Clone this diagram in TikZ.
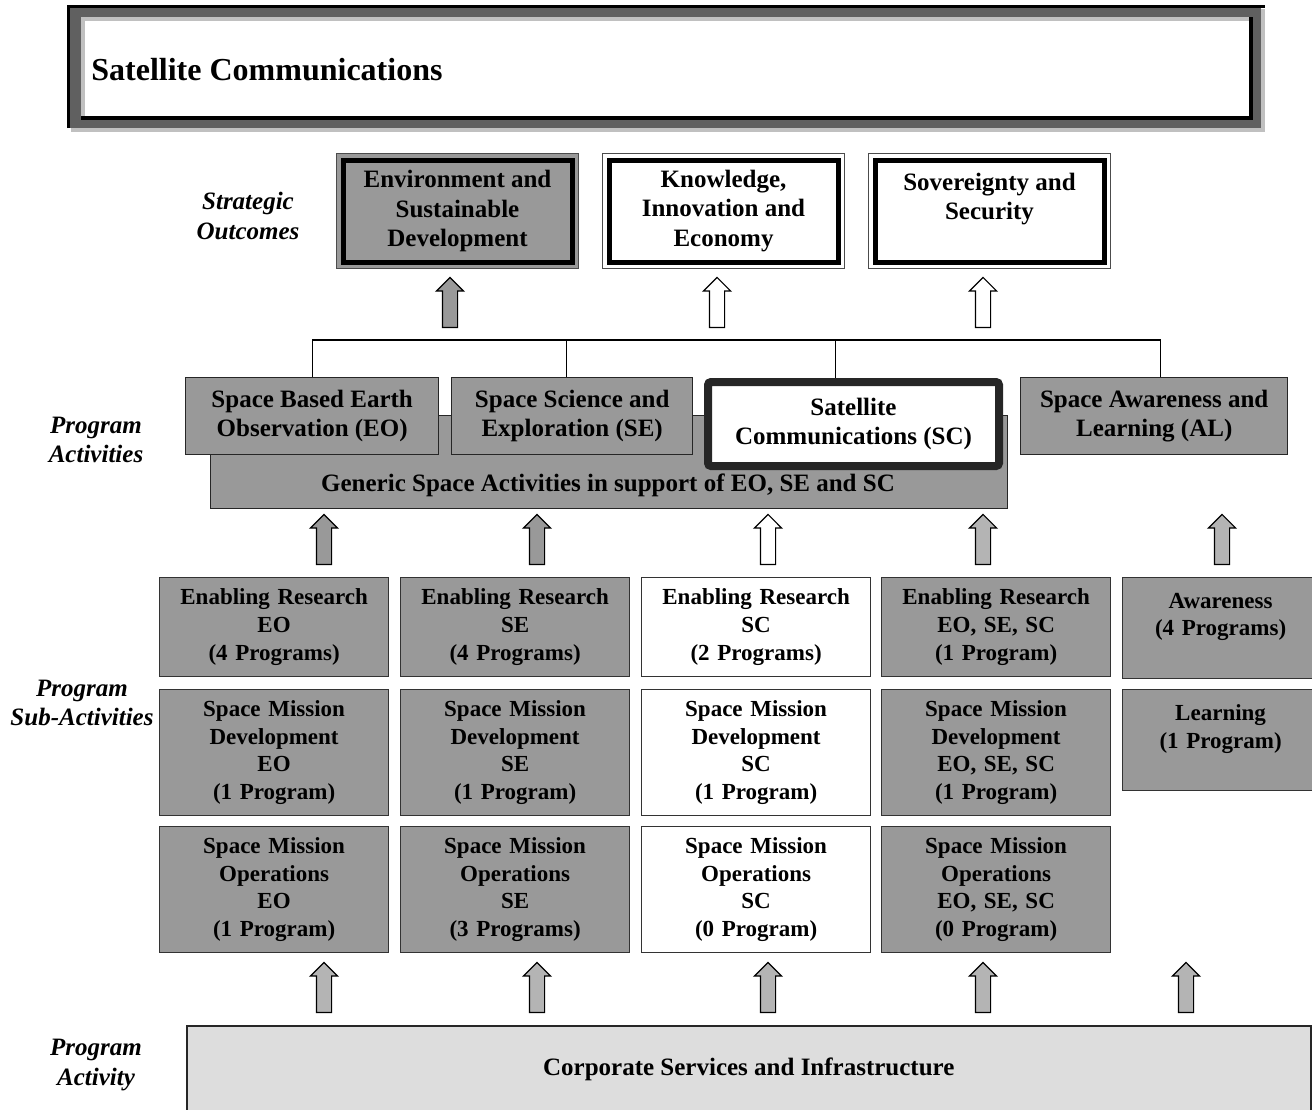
\documentclass[tikz,border=0pt]{standalone}
\usepackage{fontspec}
\setmainfont{Liberation Serif}
\usepackage{tikz}
\usetikzlibrary{shapes.arrows}
\definecolor{boxgray}{HTML}{999999}
\definecolor{lightarrow}{HTML}{B4B4B4}
\definecolor{framedark}{HTML}{606060}
\definecolor{framelight}{HTML}{C0C0C0}
\definecolor{corpgray}{HTML}{DDDDDD}
\tikzset{subbox/.style={draw=black!80, line width=0.6pt, fill=boxgray,
  anchor=north west, minimum width=114.5pt, text width=112pt, align=center,
  inner sep=0pt, font=\fontsize{11.5}{13.8}\selectfont\bfseries}}
\tikzset{actbox/.style={draw=black!85, line width=0.7pt, fill=boxgray,
  anchor=north west, align=center, inner sep=0pt,
  font=\fontsize{12.5}{14.6}\selectfont\bfseries}}
\tikzset{outbox/.style={draw=black!70, line width=0.5pt, anchor=north west,
  minimum width=121pt, minimum height=57.5pt, align=center, inner sep=0pt,
  font=\fontsize{12.5}{14.75}\selectfont\bfseries}}
\tikzset{rowlabel/.style={align=center,
  font=\fontsize{12.5}{14.75}\selectfont\bfseries\itshape}}
\tikzset{blockup/.style={single arrow, draw, line width=0.6pt,
  shape border rotate=90, anchor=tail, minimum height=25pt, inner sep=3.5pt,
  single arrow head extend=3pt}}

\begin{document}
\begin{tikzpicture}[x=0.5pt, y=-0.5pt]
\useasboundingbox (0,0) rectangle (1312,1109);

% title frame
\fill[framelight] (71,9) rectangle (1265,132);
\fill[framedark] (67,5) rectangle (1261,128);
\draw[line width=1.5pt] (68.5,128) -- (68.5,6.5) -- (1265,6.5);
\fill[black] (81,17) rectangle (1253,120);
\fill[framelight] (81,17) rectangle (1249,116);
\fill[white] (85,21) rectangle (1249,116);
\node[anchor=base west, inner sep=0pt, font=\fontsize{16}{19}\selectfont\bfseries] (title) at (91,80) {Satellite Communications};

% strategic outcomes
\node[rowlabel] (lblSO) at (248,216) {Strategic\\Outcomes};
\node[outbox, fill=boxgray] (esd) at (336,153) {Environment and\\Sustainable\\Development};
\node[outbox, fill=white] (kie) at (602,153) {Knowledge,\\Innovation and\\Economy};
\node[outbox, fill=white] (ss) at (868,153) {Sovereignty and\\Security\\\mbox{}};
\draw[line width=2.5pt] ([shift={(7,7)}]esd.north west) rectangle ([shift={(-7,-7)}]esd.south east);
\draw[line width=2.5pt] ([shift={(7,7)}]kie.north west) rectangle ([shift={(-7,-7)}]kie.south east);
\draw[line width=2.5pt] ([shift={(7,7)}]ss.north west) rectangle ([shift={(-7,-7)}]ss.south east);

\node[blockup, fill=boxgray] (upESD) at (450,328) {};
\node[blockup, fill=white] (upKIE) at (717,328) {};
\node[blockup, fill=white] (upSS) at (983,328) {};

% program activities
\node[rowlabel] (lblPA) at (96,440) {Program\\Activities};
\node[actbox, minimum width=398.5pt, minimum height=46.5pt] (gen) at (210,415) {};
\node[font=\fontsize{12.5}{14.6}\selectfont\bfseries] (genlbl) at (608,485) {Generic Space Activities in support of EO, SE and SC};
\node[actbox, minimum width=126.5pt, minimum height=38.5pt] (eoact) at (185,377) {Space Based Earth\\Observation (EO)};
\node[actbox, minimum width=120.5pt, minimum height=38.5pt] (seact) at (451,377) {Space Science and\\Exploration (SE)};
\node[actbox, fill=white, line width=4pt, rounded corners=1.5pt, minimum width=145.5pt, minimum height=42pt] (scact) at (704,378) {Satellite\\Communications (SC)};
\node[actbox, minimum width=133.5pt, minimum height=38.5pt] (alact) at (1020,377) {Space Awareness and\\Learning (AL)};

\coordinate (bus) at (0,340);
\draw[line width=0.6pt] (eoact.north) -- (eoact.north |- bus) -- ([xshift=3pt]alact.north |- bus) -- ([xshift=3pt]alact.north);
\draw[line width=0.6pt] ([xshift=-2.75pt]seact.north) -- ([xshift=-2.75pt]seact.north |- bus);
\draw[line width=0.6pt] ([xshift=-9pt]scact.north) -- ([xshift=-9pt]scact.north |- bus);

\node[blockup, fill=boxgray] (upEO) at (324,565) {};
\node[blockup, fill=boxgray] (upSE) at (537,565) {};
\node[blockup, fill=white] (upSC) at (768,565) {};
\node[blockup, fill=lightarrow] (upAll) at (983,565) {};
\node[blockup, fill=lightarrow] (upAL) at (1222,565) {};

% program sub-activities
\node[rowlabel] (lblPSA) at (82,703) {Program\\Sub-Activities};
\node[subbox, minimum height=49.5pt] (erEO) at (159,577) {Enabling Research\\EO\\(4 Programs)};
\node[subbox, minimum height=63pt] (smdEO) at (159,689) {Space Mission\\Development\\EO\\(1 Program)};
\node[subbox, minimum height=63pt] (smoEO) at (159,826) {Space Mission\\Operations\\EO\\(1 Program)};
\node[subbox, minimum height=49.5pt] (erSE) at (400,577) {Enabling Research\\SE\\(4 Programs)};
\node[subbox, minimum height=63pt] (smdSE) at (400,689) {Space Mission\\Development\\SE\\(1 Program)};
\node[subbox, minimum height=63pt] (smoSE) at (400,826) {Space Mission\\Operations\\SE\\(3 Programs)};
\node[subbox, fill=white, minimum height=49.5pt] (erSC) at (641,577) {Enabling Research\\SC\\(2 Programs)};
\node[subbox, fill=white, minimum height=63pt] (smdSC) at (641,689) {Space Mission\\Development\\SC\\(1 Program)};
\node[subbox, fill=white, minimum height=63pt] (smoSC) at (641,826) {Space Mission\\Operations\\SC\\(0 Program)};
\node[subbox, minimum height=49.5pt] (erAll) at (881,577) {Enabling Research\\EO, SE, SC\\(1 Program)};
\node[subbox, minimum height=63pt] (smdAll) at (881,689) {Space Mission\\Development\\EO, SE, SC\\(1 Program)};
\node[subbox, minimum height=63pt] (smoAll) at (881,826) {Space Mission\\Operations\\EO, SE, SC\\(0 Program)};
\node[subbox, minimum width=98pt, text width=93pt, minimum height=50.5pt] (aware) at (1122,577) {Awareness\\(4 Programs)\\\mbox{}};
\node[subbox, minimum width=98pt, text width=93pt, minimum height=50.5pt] (learn) at (1122,689) {Learning\\(1 Program)\\\mbox{}};

\node[blockup, fill=lightarrow] (csEO) at (324,1013) {};
\node[blockup, fill=lightarrow] (csSE) at (537,1013) {};
\node[blockup, fill=lightarrow] (csSC) at (768,1013) {};
\node[blockup, fill=lightarrow] (csAll) at (983,1013) {};
\node[blockup, fill=lightarrow] (csAL) at (1186,1013) {};

% program activity
\node[rowlabel] (lblPAc) at (96,1065) {Program\\Activity};
\node[actbox, fill=corpgray, line width=0.8pt, minimum width=562pt, minimum height=43.5pt] (corp) at (186,1025) {Corporate Services and Infrastructure};

\end{tikzpicture}
\end{document}
